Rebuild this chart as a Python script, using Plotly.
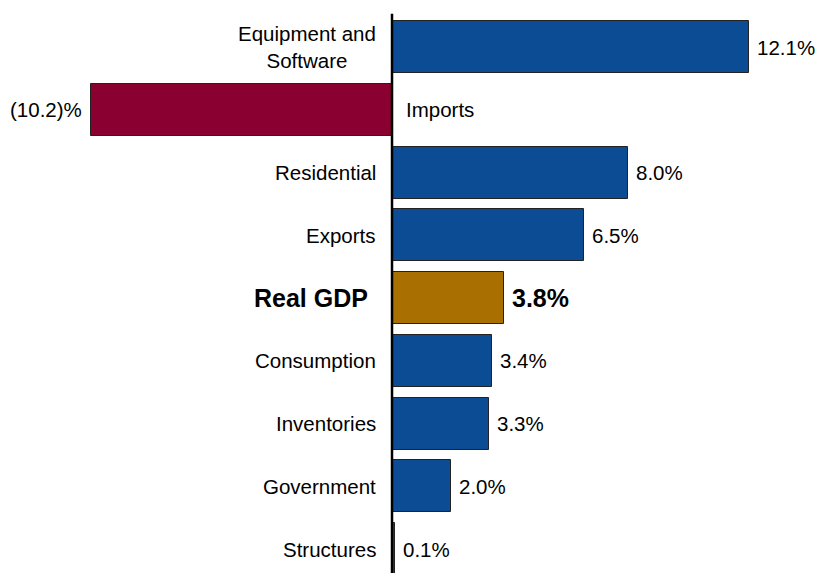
import plotly.graph_objects as go

categories = ["Equipment and<br>Software", "Imports", "Residential", "Exports", "Real GDP",
              "Consumption", "Inventories", "Government", "Structures"]
values = [12.1, -10.2, 8.0, 6.5, 3.8, 3.4, 3.3, 2.0, 0.1]
value_labels = ["12.1%", "(10.2)%", "8.0%", "6.5%", "3.8%", "3.4%", "3.3%", "2.0%", "0.1%"]
colors = ["#0B4C94", "#8A0030", "#0B4C94", "#0B4C94", "#A96F00",
          "#0B4C94", "#0B4C94", "#0B4C94", "#0B4C94"]

pos = list(range(len(categories)))
FONT = "Liberation Sans, Arial, sans-serif"

fig = go.Figure()
fig.add_trace(go.Bar(
    x=values, y=pos, orientation="h", width=0.83,
    marker=dict(color=colors, line=dict(color="#222222", width=1)),
    hoverinfo="skip",
))

annotations = []
for i, (cat, v, lab) in enumerate(zip(categories, values, value_labels)):
    bold = cat == "Real GDP"
    size = 25 if bold else 20.5
    fnt = dict(family=FONT, size=size, color="black")
    ctext = f"<b>{cat}</b>" if bold else cat
    vtext = f"<b>{lab}</b>" if bold else lab
    if v < 0:
        annotations.append(dict(x=0, y=i, text=ctext, xanchor="left", xshift=12,
                                showarrow=False, font=fnt, align="left"))
        annotations.append(dict(x=v, y=i, text=vtext, xanchor="right", xshift=-7,
                                showarrow=False, font=fnt))
    else:
        annotations.append(dict(x=0, y=i, text=ctext, xanchor="right",
                                xshift=-22 if bold else -14,
                                showarrow=False, font=fnt, align="center"))
        annotations.append(dict(x=v, y=i, text=vtext, xanchor="left", xshift=6,
                                showarrow=False, font=fnt))

fig.add_shape(type="line", x0=0, x1=0, y0=-0.53, y1=8.5, xref="x", yref="y",
              line=dict(color="black", width=2.5))

fig.update_layout(
    width=815, height=573,
    margin=dict(l=0, r=0, t=0, b=0),
    paper_bgcolor="white", plot_bgcolor="white",
    showlegend=False,
    annotations=annotations,
    xaxis=dict(range=[-13.29, 14.34], visible=False, fixedrange=True),
    yaxis=dict(range=[8.38, -0.749], visible=False, fixedrange=True),
    bargap=0,
)

fig.write_html("out.html")
